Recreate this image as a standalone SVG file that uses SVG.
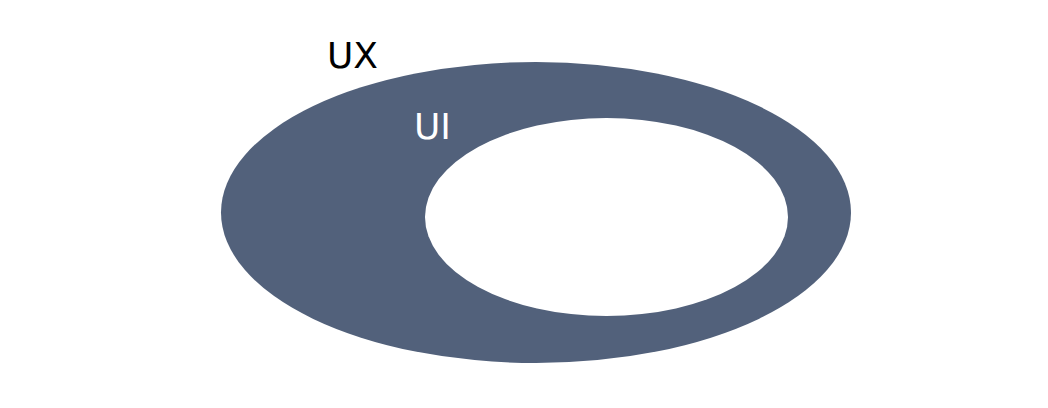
<svg xmlns="http://www.w3.org/2000/svg" width="1048" height="408" viewBox="0 0 1048 408">
<style>.t{font-family:"DejaVu Sans",sans-serif;font-size:36px}</style>
<rect width="1048" height="408" fill="#fff"/>
<g id="ux"><ellipse cx="536" cy="212.5" rx="315" ry="150.5" fill="#52617b"/><text class="t" x="327" y="68" fill="#000">UX</text></g>
<g id="ui"><ellipse cx="606.5" cy="217" rx="181.5" ry="99" fill="#fff"/><text class="t" x="414" y="139" fill="#fff">UI</text></g>
<g id="connectors"/>
</svg>
